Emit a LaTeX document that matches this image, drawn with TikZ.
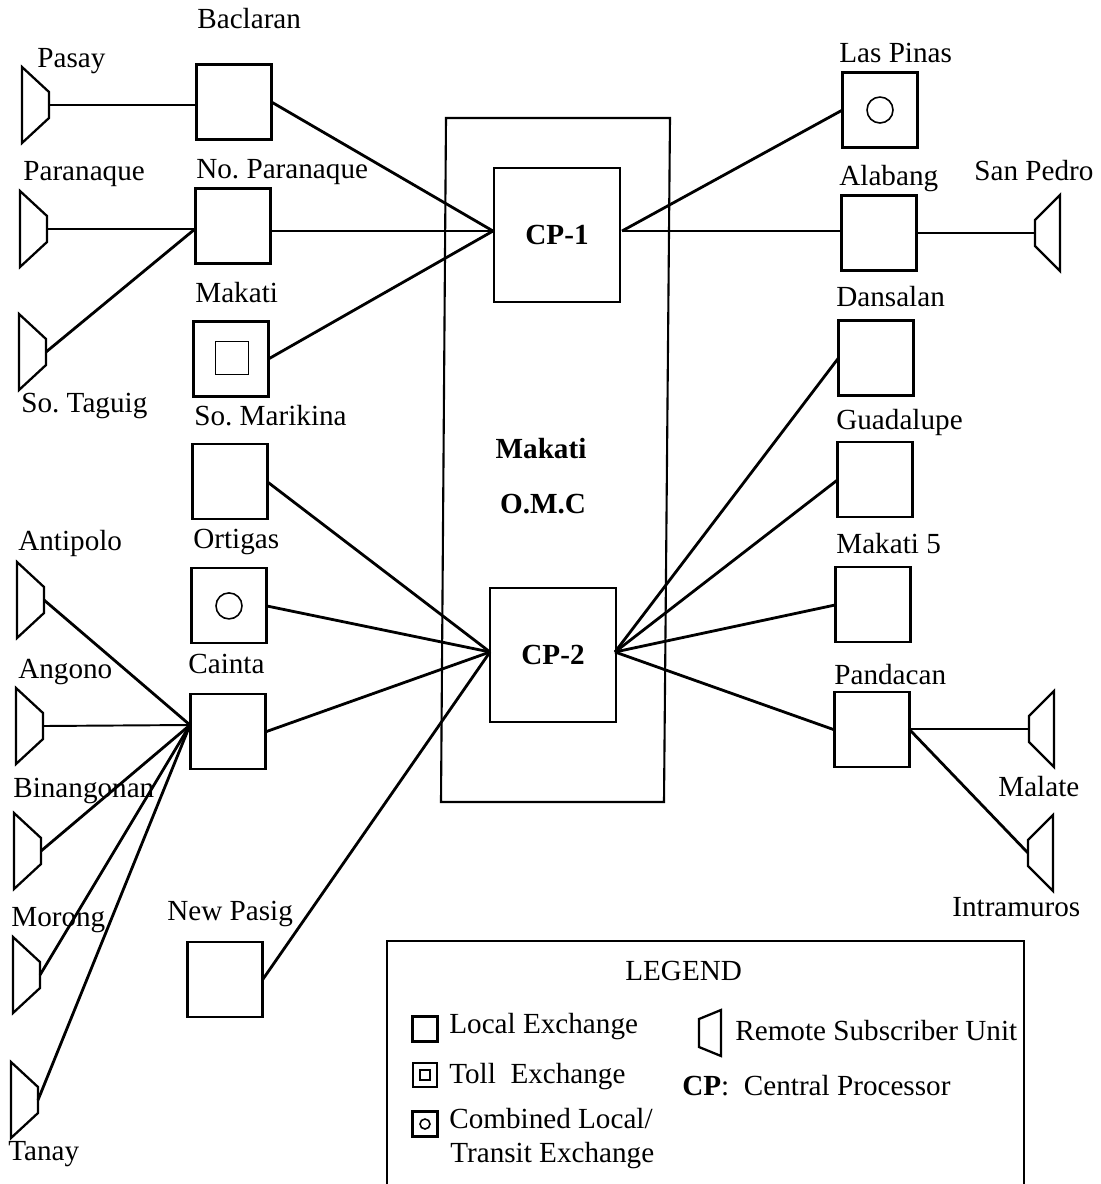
\documentclass[tikz,border=0pt]{standalone}
\usepackage{fontspec}
\setmainfont{Liberation Serif}
\usetikzlibrary{positioning}
\frenchspacing

\tikzset{
    exch/.style={draw, line width=1.2pt, minimum size=1.5cm, inner sep=0pt, outer sep=0pt},
    proc/.style={draw, line width=1.2pt, minimum width=2.52cm, minimum height=2.68cm, font=\fontsize{16.6}{19}\selectfont\bfseries},
    rsuline/.style={line width=1.3pt},
    rsuleft/.pic={
        \draw [rsuline] (0,-38) -- (27,-13) -- (27,13) -- (0,38) -- cycle;
        \coordinate (-port) at (27,0);
    },
    rsuright/.pic={
        \draw [rsuline] (0,-38) -- (-25,-13) -- (-25,13) -- (0,38) -- cycle;
        \coordinate (-port) at (-25,0);
    },
    rsukey/.pic={
        \draw [rsuline] (0,-23) -- (-22,-14) -- (-22,14) -- (0,23) -- cycle;
    },
    ring/.style={draw, circle, line width=0.9pt, minimum size=0.52cm, inner sep=0pt},
    lbl/.style={anchor=base west, inner sep=0pt},
    thinlink/.style={line width=1.1pt},
    link/.style={line width=1.6pt},
    every node/.append style={font=\fontsize{16.6}{19}\selectfont},
}

\begin{document}
\begin{tikzpicture}[x=0.02cm, y=-0.02cm]
    \useasboundingbox (0,0) rectangle (1100,1184);

    % left column
    \node [exch] (baclaran) at (234,102) {};
    \node [exch, below=of baclaran, xshift=-0.02cm, yshift=0.02cm] (noparanaque) {};
    \node [exch, below=of noparanaque, xshift=-0.04cm, yshift=-0.16cm] (makati) {};
    \node [exch, below=of makati, xshift=-0.02cm, yshift=0.04cm] (somarikina) {};
    \node [exch, below=of somarikina, xshift=-0.02cm, yshift=0.02cm] (ortigas) {};
    \node [exch, below=of ortigas, xshift=-0.02cm, yshift=-0.02cm] (cainta) {};
    \node [exch, below=of cainta, xshift=-0.06cm, yshift=-2.46cm] (newpasig) {};
    \node [draw, line width=1pt, minimum size=0.66cm, inner sep=0pt] (makatiin) at (232,358) {};
    \node [ring] (ortigasin) at (ortigas) {};

    % right column
    \node [exch] (laspinas) at (880,110) {};
    \node [exch, below=of laspinas, xshift=-0.02cm, yshift=0.04cm] (alabang) {};
    \node [exch, below=of alabang, xshift=-0.06cm, yshift=0.0cm] (dansalan) {};
    \node [exch, below=of dansalan, xshift=-0.02cm, yshift=0.06cm] (guadalupe) {};
    \node [exch, below=of guadalupe, xshift=-0.04cm, yshift=0.0cm] (makatifive) {};
    \node [exch, below=of makatifive, xshift=-0.02cm, yshift=0.0cm] (pandacan) {};
    \node [ring] (laspinasin) at (laspinas) {};

    % remote units
    \pic (pasay) at (22,105) {rsuleft};
    \pic (paranaque) at (20,229) {rsuleft};
    \pic (sotaguig) at (19,352) {rsuleft};
    \pic (antipolo) at (17,600) {rsuleft};
    \pic (angono) at (16,726) {rsuleft};
    \pic (binangonan) at (14,851) {rsuleft};
    \pic (morong) at (13,975) {rsuleft};
    \pic (tanay) at (11,1100) {rsuleft};
    \pic (sanpedro) at (1060,233) {rsuright};
    \pic (malate) at (1054,729) {rsuright};
    \pic (intramuros) at (1053,853) {rsuright};

    % O.M.C
    \draw [line width=1.2pt] (446,118) -- (670,118) -- (664,802) -- (441,802) -- cycle;
    \node [proc] (cpone) at (557,235) {CP-1\hspace{0.16cm}};
    \node [proc] (cptwo) at (553,655) {CP-2\hspace{0.04cm}};
    \node [font=\fontsize{16.6}{19}\selectfont\bfseries, anchor=base] (omca) at (541,458) {Makati};
    \node [font=\fontsize{16.6}{19}\selectfont\bfseries, anchor=base] (omcb) at (543,513) {O.M.C};

    \coordinate (cponew) at (493,231);
    \coordinate (cponee) at (622,231);
    \coordinate (cptwow) at (490,652);
    \coordinate (cptwoe) at (615,652);
    \coordinate (caintaw) at (190,725);
    \coordinate (noparw) at (195,229);
    \coordinate (pandae) at (909,729);

    % links
    \draw [thinlink] (pasay-port) -- (pasay-port -| baclaran.west);
    \draw [link] (baclaran.east) -- (cponew);
    \draw [thinlink] (paranaque-port) -- (noparw);
    \draw [link] (sotaguig-port) -- (noparw);
    \draw [thinlink] (noparanaque.east |- cponew) -- (cponew);
    \draw [link] (makati.east) -- (cponew);
    \draw [link] (cponee) -- (laspinas.west);
    \draw [thinlink] (cponee) -- (cponee -| alabang.west);
    \draw [thinlink] (alabang.east) -- (sanpedro-port);
    \draw [link] (somarikina.east) -- (cptwow);
    \draw [link] (ortigas.east) -- (cptwow);
    \draw [link] (cainta.east) -- (cptwow);
    \draw [link] (newpasig.east) -- (cptwow);
    \draw [link] (antipolo-port) -- (caintaw);
    \draw [thinlink] (angono-port) -- (caintaw);
    \draw [link] (binangonan-port) -- (caintaw);
    \draw [link] (morong-port) -- (caintaw);
    \draw [link] (tanay-port) -- (caintaw);
    \draw [link] (cptwoe) -- (dansalan.west);
    \draw [link] (cptwoe) -- (guadalupe.west);
    \draw [link] (cptwoe) -- (makatifive.west);
    \draw [link] (cptwoe) -- (pandacan.west);
    \draw [thinlink] (pandae) -- (malate-port);
    \draw [link] (pandae) -- (intramuros-port);

    % labels
    \node [lbl] (lbaclaran) at (197,28) {Baclaran};
    \node [lbl] (lpasay) at (37,67) {Pasay};
    \node [lbl] (lparanaque) at (23,180) {Paranaque};
    \node [lbl] (lnoparanaque) at (196,178) {No. Paranaque};
    \node [lbl] (lmakati) at (195,302) {Makati};
    \node [lbl] (lsotaguig) at (21,412) {So. Taguig};
    \node [lbl] (lsomarikina) at (194,425) {So. Marikina};
    \node [lbl] (lantipolo) at (18,550) {Antipolo};
    \node [lbl] (lortigas) at (193,548) {Ortigas};
    \node [lbl] (langono) at (18,678) {Angono};
    \node [lbl] (lcainta) at (188,673) {Cainta};
    \node [lbl] (lbinangonan) at (13,797) {Binangonan};
    \node [lbl] (lmorong) at (11,926) {Morong};
    \node [lbl] (lnewpasig) at (167,920) {New Pasig};
    \node [lbl] (ltanay) at (8,1160) {Tanay};
    \node [lbl] (llaspinas) at (839,62) {Las Pinas};
    \node [lbl] (lalabang) at (839,185) {Alabang};
    \node [lbl] (lsanpedro) at (974,180) {San Pedro};
    \node [lbl] (ldansalan) at (836,306) {Dansalan};
    \node [lbl] (lguadalupe) at (836,429) {Guadalupe};
    \node [lbl] (lmakatifive) at (836,553) {Makati 5};
    \node [lbl] (lpandacan) at (834,684) {Pandacan};
    \node [lbl] (lmalate) at (998,796) {Malate};
    \node [lbl] (lintramuros) at (952,916) {Intramuros};

    % legend
    \draw [line width=1.2pt] (387,1184) -- (387,941) -- (1024,941) -- (1024,1184);
    \node [lbl] (llegend) at (625,980) {LEGEND};
    \node [exch, minimum size=0.5cm] (keylocal) at (425,1029) {};
    \node [lbl] (tlocal) at (449,1033) {Local Exchange};
    \node [exch, minimum size=0.49cm] (keytoll) at (425,1075) {};
    \node [draw, line width=0.9pt, minimum size=0.2cm, inner sep=0pt] (keytollin) at (keytoll) {};
    \node [lbl] (ttoll) at (449,1083) {Toll\ \ Exchange};
    \node [exch, minimum size=0.5cm] (keycomb) at (425,1124) {};
    \node [ring, minimum size=0.2cm] (keycombin) at (keycomb) {};
    \node [lbl] (tcomb) at (449,1128) {Combined Local/};
    \node [lbl] (ttransit) at (450,1162) {Transit Exchange};
    \pic (keyrsu) at (721,1033) {rsukey};
    \node [lbl] (trsu) at (735,1040) {Remote Subscriber Unit};
    \node [lbl] (tcp) at (682,1095) {\textbf{CP}:\ \ Central Processor};
\end{tikzpicture}
\end{document}
